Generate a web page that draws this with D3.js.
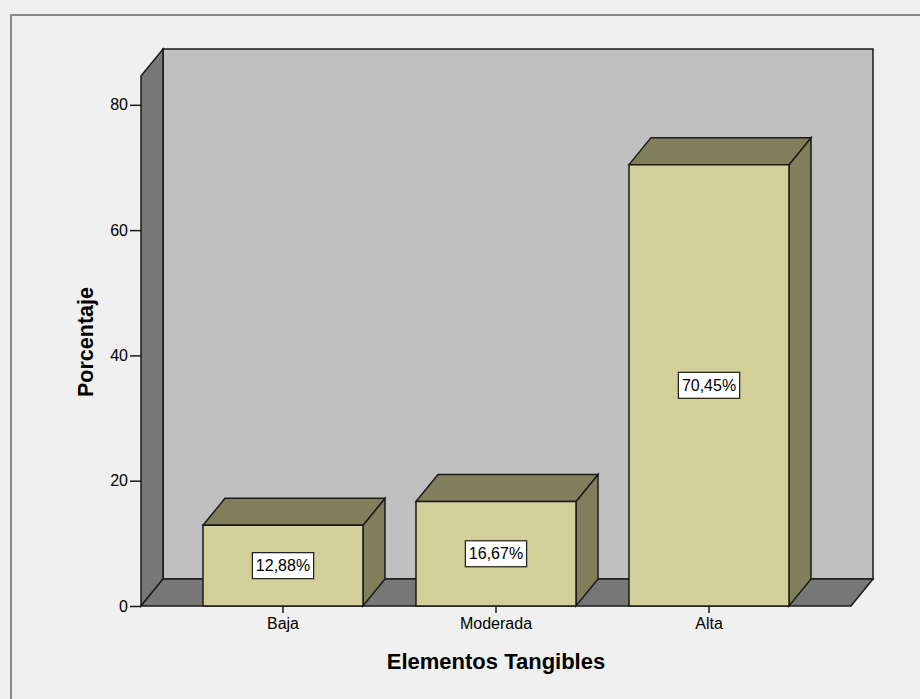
<!DOCTYPE html>
<html>
<head>
<meta charset="utf-8">
<script src="https://cdn.jsdelivr.net/npm/d3@7/dist/d3.min.js"></script>
<style>
  html, body { margin: 0; padding: 0; background: #f0f0f0; }
  svg { display: block; }
  text { font-family: "Liberation Sans", Arial, sans-serif; fill: #000; }
</style>
</head>
<body>
<svg id="chart" width="920" height="699"></svg>
<script>
// Chart data
const categories = ["Baja", "Moderada", "Alta"];
const percentages = [12.88, 16.67, 70.45];
const yTicks = [0, 20, 40, 60, 80];
const yAxisMax = 84.6;
const xTitle = "Elementos Tangibles";
const yTitle = "Porcentaje";

// Layout
const W = 920, H = 699;
const frontLeft = 141, frontRight = 851;
const floorY = 606, wallTopY = 76;
const depthX = 22, depthY = 27;

const colors = {
  page: "#f0f0f0",
  border: "#8a8a8a",
  backWall: "#c0c0c0",
  sideWall: "#777777",
  barFront: "#d3cf98",
  barShade: "#817f5b",
  line: "#1a1a1a"
};

const svg = d3.select("#chart");

const x = d3.scaleBand()
  .domain(categories)
  .range([frontLeft, frontRight])
  .paddingInner(0.2488)
  .paddingOuter(0.291);

const y = d3.scaleLinear()
  .domain([0, yAxisMax])
  .range([floorY, wallTopY]);

const locale = d3.formatLocale({ decimal: ",", thousands: ".", grouping: [3], currency: ["", "€"] });
const fmt = v => locale.format(".2f")(v) + "%";

// Page background and frame
svg.append("rect").attr("width", W).attr("height", H).attr("fill", colors.page);
svg.append("path")
  .attr("d", `M11,${H} L11,15 L${W},15`)
  .attr("fill", "none")
  .attr("stroke", colors.border)
  .attr("stroke-width", 2);

const pt = p => p.join(",");
const poly = (g, pts, fill) => g.append("polygon")
  .attr("points", pts.map(pt).join(" "))
  .attr("fill", fill)
  .attr("stroke", colors.line)
  .attr("stroke-width", 1.5)
  .attr("stroke-linejoin", "miter");

const walls = svg.append("g");
const y0 = y(0), yTop = y(yAxisMax);
// back wall
poly(walls, [[frontLeft + depthX, yTop - depthY], [frontRight + depthX, yTop - depthY],
             [frontRight + depthX, y0 - depthY], [frontLeft + depthX, y0 - depthY]], colors.backWall);
// left wall
poly(walls, [[frontLeft, yTop], [frontLeft + depthX, yTop - depthY],
             [frontLeft + depthX, y0 - depthY], [frontLeft, y0]], colors.sideWall);
// floor
poly(walls, [[frontLeft, y0], [frontLeft + depthX, y0 - depthY],
             [frontRight + depthX, y0 - depthY], [frontRight, y0]], colors.sideWall);

// Bars
const data = categories.map((c, i) => ({ cat: c, val: percentages[i] }));
const bars = svg.append("g").selectAll("g").data(data).join("g");
bars.each(function (d) {
  const g = d3.select(this);
  const bx0 = x(d.cat), bx1 = x(d.cat) + x.bandwidth();
  const ty = y(d.val);
  poly(g, [[bx1, ty], [bx1 + depthX, ty - depthY], [bx1 + depthX, y0 - depthY], [bx1, y0]], colors.barShade);
  poly(g, [[bx0, ty], [bx0 + depthX, ty - depthY], [bx1 + depthX, ty - depthY], [bx1, ty]], colors.barShade);
  poly(g, [[bx0, ty], [bx1, ty], [bx1, y0], [bx0, y0]], colors.barFront);
});

// Value labels
bars.each(function (d) {
  const g = d3.select(this);
  const cx = x(d.cat) + x.bandwidth() / 2;
  const cy = (y(d.val) + y(0)) / 2;
  const t = g.append("text")
    .attr("x", cx).attr("y", cy)
    .attr("text-anchor", "middle")
    .attr("dominant-baseline", "central")
    .style("font-size", "16px")
    .text(fmt(d.val));
  const bb = t.node().getBBox();
  g.insert("rect", "text")
    .attr("x", cx - bb.width / 2 - 3.5)
    .attr("y", cy - 13)
    .attr("width", bb.width + 7)
    .attr("height", 26)
    .attr("fill", "#ffffff")
    .attr("stroke", colors.line)
    .attr("stroke-width", 1.2);
});

// Y axis
const yAxis = d3.axisLeft(y).tickValues(yTicks).tickSize(11).tickPadding(2).tickFormat(d3.format("d"));
const gy = svg.append("g").attr("transform", `translate(${frontLeft},0)`).call(yAxis);
gy.select(".domain").remove();
gy.selectAll(".tick line").attr("stroke", colors.line).attr("stroke-width", 1.5);
gy.selectAll(".tick text").style("font-size", "16px").style("font-family", "Liberation Sans, Arial, sans-serif").attr("fill", "#111");

// X axis
const xAxis = d3.axisBottom(x).tickSize(7).tickPadding(5);
const gx = svg.append("g").attr("transform", `translate(0,${floorY})`).call(xAxis);
gx.select(".domain").remove();
gx.selectAll(".tick line").attr("stroke", colors.line).attr("stroke-width", 1.5);
gx.selectAll(".tick text").style("font-size", "16px").style("font-family", "Liberation Sans, Arial, sans-serif").attr("fill", "#111");

// Axis titles
svg.append("text")
  .attr("x", (frontLeft + frontRight) / 2)
  .attr("y", 669)
  .attr("text-anchor", "middle")
  .style("font-size", "22px")
  .style("font-weight", "bold")
  .text(xTitle);

svg.append("text")
  .attr("transform", `translate(93,342) rotate(-90)`)
  .attr("text-anchor", "middle")
  .style("font-size", "21.5px")
  .style("font-weight", "bold")
  .text(yTitle);
</script>
</body>
</html>
